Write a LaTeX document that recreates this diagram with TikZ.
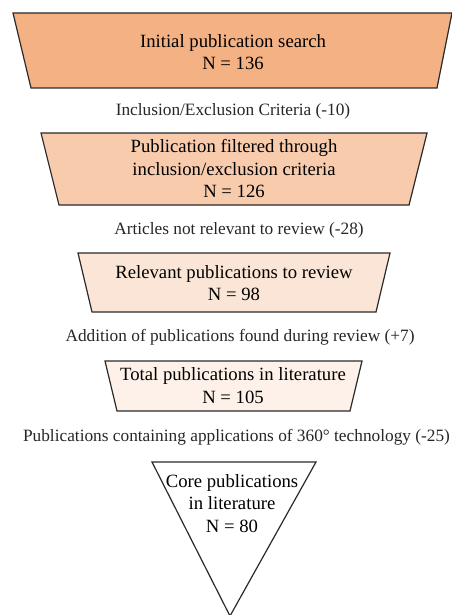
\documentclass[tikz,border=0pt]{standalone}
\usepackage{fontspec}
\setmainfont{Liberation Serif}
\definecolor{fillA}{HTML}{F4B183}
\definecolor{fillB}{HTML}{F8CBAD}
\definecolor{fillC}{HTML}{FBE5D6}
\definecolor{fillD}{HTML}{FDF1E9}
\definecolor{edge}{HTML}{2A2A2A}
\begin{document}
\begin{tikzpicture}[x=1pt,y=-1pt,
  stage/.style={draw=edge,line width=1.2pt,line join=miter},
  boxtext/.style={align=center,font=\fontsize{18.7}{22.5}\selectfont,inner sep=0pt},
  steplabel/.style={font=\fontsize{17.3}{20}\selectfont,inner sep=0pt,text=black!85}]
\useasboundingbox (0,0) rectangle (451,615);
% stage 1
\draw[stage,fill=fillA] (13,13) -- (452,13) -- (437,88) -- (31,88) -- cycle;
\node[boxtext] (s1) at (233,52) {Initial publication search\\N = 136};
\node[steplabel] (l1) at (233,111) {Inclusion/Exclusion Criteria (-10)};
% stage 2
\draw[stage,fill=fillB] (41,133) -- (427,133) -- (409,205) -- (59,205) -- cycle;
\node[boxtext] (s2) at (234,169) {Publication filtered through\\inclusion/exclusion criteria\\N = 126};
\node[steplabel] (l2) at (239,230) {Articles not relevant to review (-28)};
% stage 3
\draw[stage,fill=fillC] (78,253) -- (390,253) -- (376,312) -- (92,312) -- cycle;
\node[boxtext] (s3) at (234,283) {Relevant publications to review\\N = 98};
\node[steplabel] (l3) at (240,337) {Addition of publications found during review (+7)};
% stage 4
\draw[stage,fill=fillD] (105,361) -- (362,361) -- (350,411) -- (117,411) -- cycle;
\node[boxtext] (s4) at (233,385.5) {Total publications in literature\\N = 105};
\node[steplabel] (l4) at (236.5,437) {Publications containing applications of 360° technology (-25)};
% stage 5
\draw[stage,fill=white] (152,462) -- (316,462) -- (230,616) -- cycle;
\node[boxtext] (s5) at (232,503.5) {Core publications\\in literature\\N = 80};
\end{tikzpicture}
\end{document}
